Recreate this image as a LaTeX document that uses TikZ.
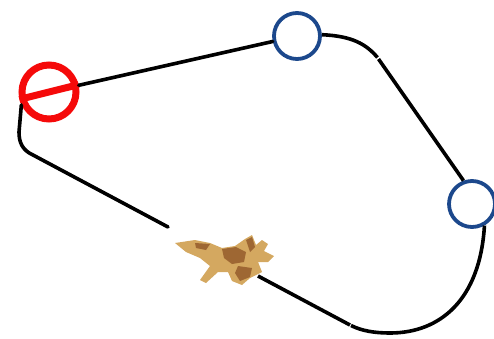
\documentclass[tikz,border=0pt]{standalone}
\definecolor{navyring}{RGB}{28,72,140}
\definecolor{stopred}{RGB}{245,10,10}
\definecolor{jettan}{RGB}{212,168,96}
\definecolor{jetbrown}{RGB}{140,82,36}
\begin{document}
\begin{tikzpicture}[x=1pt,y=-1pt,
  route/.style={line width=3.6pt,black,line cap=round},
  stopsign/.style={circle,draw=stopred,line width=7pt,minimum size=54pt,inner sep=0pt,fill=white},
  waypoint/.style={circle,draw=navyring,line width=3.8pt,minimum size=46pt,inner sep=0pt,fill=white},
  jetbody/.style={fill=jettan,draw=none},
  jetshade/.style={fill=jetbrown,draw=none,opacity=0.75}]
\useasboundingbox (0,0) rectangle (494,338);

% waypoints
\node[stopsign] (red) at (49,92) {};
\draw[stopred,line width=7pt] (red.194) -- (red.14);
\node[waypoint] (wp1) at (297,36) {};
\node[waypoint] (wp2) at (472,204) {};

% route corners and joints
\coordinate (k1) at (377.5,57.5);
\coordinate (k2) at (378.5,59);
\coordinate (b1) at (351,325.5);
\coordinate (b2) at (350,325);
\coordinate (jr) at (258,276);
\coordinate (jl) at (168,227);
\coordinate (c1) at (33,155);

% route
\draw[route] (red) -- (wp1);
\draw[route,line cap=butt] (wp1.3) .. controls (352,36) and (366,44) .. (k1);
\draw[route,line cap=butt] (k2) -- (wp2.110);
\draw[route,line cap=butt] (wp2.-60) .. controls (480,300) and (440,333) .. (390,333)
  .. controls (375,333) and (362,331) .. (b1);
\draw[route,line cap=butt] (b2) -- (jr);
\draw[route] (jl) -- (c1) .. controls (22,150) and (19,142) .. (19,132) -- (red.205);

% aircraft
\node[minimum width=100pt,minimum height=50pt,inner sep=0pt] (jet) at (225,262) {};
\fill[jetbody] (175,243) -- (195,240) -- (210,243) -- (222,248) -- (235,246)
  -- (245,239) -- (252,235) -- (256,245) -- (262,240) -- (268,244) -- (264,251)
  -- (274,256) -- (268,262) -- (258,262) -- (262,272) -- (250,278) -- (242,285)
  -- (232,281) -- (228,272) -- (218,272) -- (206,283) -- (200,280) -- (210,266)
  -- (200,258) -- (186,252) -- cycle;
\fill[jetshade] (222,249) -- (236,247) -- (246,252) -- (244,262) -- (232,264) -- (224,258) -- cycle;
\fill[jetshade] (246,240) -- (252,237) -- (255,247) -- (250,252) -- cycle;
\fill[jetshade] (238,266) -- (252,268) -- (250,277) -- (240,281) -- (235,273) -- cycle;
\fill[jetshade] (195,243) -- (210,244) -- (206,250) -- (196,248) -- cycle;
\end{tikzpicture}
\end{document}
